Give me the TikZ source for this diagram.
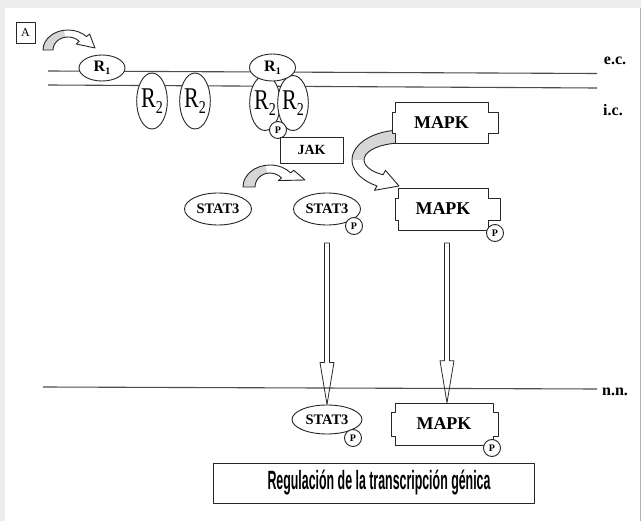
\documentclass[tikz,border=0pt]{standalone}
\usepackage{graphicx}
\usepackage{fontspec}
\setmainfont{Liberation Serif}
\newfontfamily\regfont{Liberation Sans}
\usetikzlibrary{shapes.geometric,calc}

\tikzset{
  outl/.style={draw=black!85, line width=0.9pt, line join=round},
  oval/.style={outl, ellipse, fill=white, inner sep=0pt},
  pbubble/.style={outl, circle, fill=white, inner sep=0pt, minimum size=17pt,
    font=\fontsize{10}{10}\selectfont\bfseries},
  kinasetext/.style={rectangle, inner sep=0pt, font=\fontsize{18}{18}\selectfont\bfseries},
  statoval/.style={oval, font=\fontsize{14.5}{14.5}\selectfont\bfseries},
  sidelabel/.style={inner sep=0pt, font=\fontsize{16}{16}\selectfont\bfseries},
  membrane/.style={draw=black!70, line width=1.1pt},
  bandfill/.style={fill=black!16},
}

% R subunit labels
\newcommand\Rone{\fontsize{16}{16}\selectfont\bfseries R\raisebox{-3pt}{\fontsize{10}{10}\selectfont 1}}
\newcommand\Rtwo{\scalebox{1}[1.3]{\fontsize{22}{22}\selectfont R\raisebox{-5pt}{\fontsize{14}{14}\selectfont 2}}}

% notched kinase box: name, cx, cy, width, height, left tab, right tab, tab inset
\newcommand\kinase[8]{%
  \draw[outl, fill=white] (#2,#3) ++(-#4/2,#5/2) -- ++(#4,0) -- ++(0,-#8) -- ++(#7,0)
    -- ++(0,-#5+2*#8) -- ++(-#7,0) -- ++(0,-#8) -- ++(-#4,0) -- ++(0,#8) -- ++(-#6,0)
    -- ++(0,#5-2*#8) -- ++(#6,0) -- cycle;
  \node[kinasetext, minimum width=#4pt, minimum height=#5pt] (#1) at (#2,#3) {MAPK};}

\begin{document}
\begin{tikzpicture}[x=1pt,y=1pt]
  % page and frame
  \fill[black!7] (0,0) rectangle (641,-521);
  \fill[white] (5,-8) rectangle (640,-521);
  \draw[black!30, line width=0.8pt] (640,-8) -- (640,-521);
  \useasboundingbox (0,0) rectangle (641,-521);

  % membranes
  \draw[membrane] (48,-71) -- (597,-73.5);
  \draw[membrane] (48,-85) -- (597,-88);
  \draw[membrane] (43,-387) -- (597,-389);

  % side labels
  \node[sidelabel] (lec) at (615,-61) {e.c.};
  \node[sidelabel] (lic) at (613,-110) {i.c.};
  \node[sidelabel] (lnn) at (615,-392) {n.n.};

  % panel letter
  \node[outl, rectangle, fill=white, minimum width=19pt, minimum height=21pt, inner sep=0pt,
        font=\fontsize{12}{12}\selectfont] (lbA) at (25.5,-32.5) {A};

  % ligand binding arrow
  \begin{scope}[shift={(68,-50)}]
    \fill[bandfill] (180:25 and 20) arc[start angle=180, end angle=100, x radius=25, y radius=20]
      -- (100:15 and 13) arc[start angle=100, end angle=180, x radius=15, y radius=13] -- cycle;
    \draw[outl] (180:25 and 20) arc[start angle=180, end angle=42, x radius=25, y radius=20]
      -- (42:29 and 24) -- (27,2) -- (42:11 and 9) -- (42:15 and 13)
      arc[start angle=42, end angle=180, x radius=15, y radius=13] -- cycle;
  \end{scope}

  % receptors
  \node[oval, minimum width=46pt, minimum height=26pt] (r1a) at (102,-68) {\Rone};
  \node[oval, minimum width=30pt, minimum height=56pt] (r2a) at (152,-101) {\Rtwo};
  \node[oval, minimum width=30pt, minimum height=56pt] (r2b) at (195,-101) {\Rtwo};
  \node[oval, minimum width=30pt, minimum height=55pt] (r2c) at (265,-103) {\Rtwo};
  \node[oval, minimum width=30pt, minimum height=55pt] (r2d) at (293,-103) {\Rtwo};
  \node[oval, minimum width=46pt, minimum height=27pt] (r1b) at (272.5,-67.5) {\Rone};
  \node[pbubble] (pR) at (278,-130) {P};

  % JAK
  \node[outl, rectangle, fill=white, minimum width=63pt, minimum height=26pt, inner sep=0pt,
        font=\fontsize{14}{14}\selectfont\bfseries] (jak) at (311.5,-150) {JAK};

  % phosphorylation arrow for STAT3
  \begin{scope}[shift={(270,-187)}]
    \fill[bandfill] (180:27 and 22) arc[start angle=180, end angle=100, x radius=27, y radius=22]
      -- (100:15 and 14) arc[start angle=100, end angle=180, x radius=15, y radius=14] -- cycle;
    \draw[outl] (180:27 and 22) arc[start angle=180, end angle=40, x radius=27, y radius=22]
      -- (40:31 and 26) -- (35,7) -- (40:11 and 10) -- (40:15 and 14)
      arc[start angle=40, end angle=180, x radius=15, y radius=14] -- cycle;
  \end{scope}

  % MAPK activation arrow
  \begin{scope}[shift={(402,-160)}]
    \fill[bandfill] (95:50 and 30) arc[start angle=95, end angle=180, x radius=50, y radius=30]
      -- (180:38 and 17) arc[start angle=180, end angle=95, x radius=38, y radius=17] -- cycle;
    \draw[outl] (95:50 and 30) arc[start angle=95, end angle=240, x radius=50, y radius=30]
      -- (240:55 and 35) -- (-3,-26) -- (240:33 and 12) -- (240:38 and 17)
      arc[start angle=240, end angle=95, x radius=38, y radius=17] -- cycle;
  \end{scope}

  % cytoplasmic MAPK
  \kinase{mk1}{441.5}{-122.5}{93}{41}{3}{10}{10}
  \kinase{mk2}{443}{-209}{90}{42}{3}{12}{10}
  \node[pbubble] (pMk2) at (495,-233) {P};

  % cytoplasmic STAT3
  \node[statoval, minimum width=67pt, minimum height=32pt] (s3a) at (218,-209) {STAT3};
  \node[statoval, minimum width=67pt, minimum height=32pt] (s3b) at (327,-209) {STAT3};
  \node[pbubble] (pS3b) at (354,-226) {P};

  % nuclear STAT3 and MAPK
  \node[statoval, minimum width=70pt, minimum height=29pt] (s3c) at (327,-419.5) {STAT3};
  \node[pbubble] (pS3c) at (353,-438) {P};
  \kinase{mk3}{444}{-424}{98}{42}{4}{5}{9}
  \node[pbubble] (pMk3) at (492,-448) {P};

  % translocation arrows
  \coordinate (v1) at (327,-243);
  \coordinate (v2) at (447,-243);
  \draw[outl, line width=0.8pt] let \p1=(v1), \p2=(s3c.north) in
    (\x1-2.5pt,\y1) -- (\x1-2.5pt,\y2+42pt) -- (\x1-7pt,\y2+42pt) -- (\x1,\y2)
    -- (\x1+7pt,\y2+42pt) -- (\x1+2.5pt,\y2+42pt) -- (\x1+2.5pt,\y1) -- cycle;
  \draw[outl, line width=0.8pt] let \p1=(v2), \p2=(mk3.north) in
    (\x1-2.5pt,\y1) -- (\x1-2.5pt,\y2+42pt) -- (\x1-7pt,\y2+42pt) -- (\x1,\y2)
    -- (\x1+7pt,\y2+42pt) -- (\x1+2.5pt,\y2+42pt) -- (\x1+2.5pt,\y1) -- cycle;

  % outcome
  \node[outl, rectangle, fill=white, minimum width=321pt, minimum height=40pt, inner sep=0pt]
    (reg) at (373.5,-483)
    {\hspace*{11pt}\resizebox*{223pt}{25pt}{\regfont\bfseries Regulación de la transcripción génica}};
\end{tikzpicture}
\end{document}
